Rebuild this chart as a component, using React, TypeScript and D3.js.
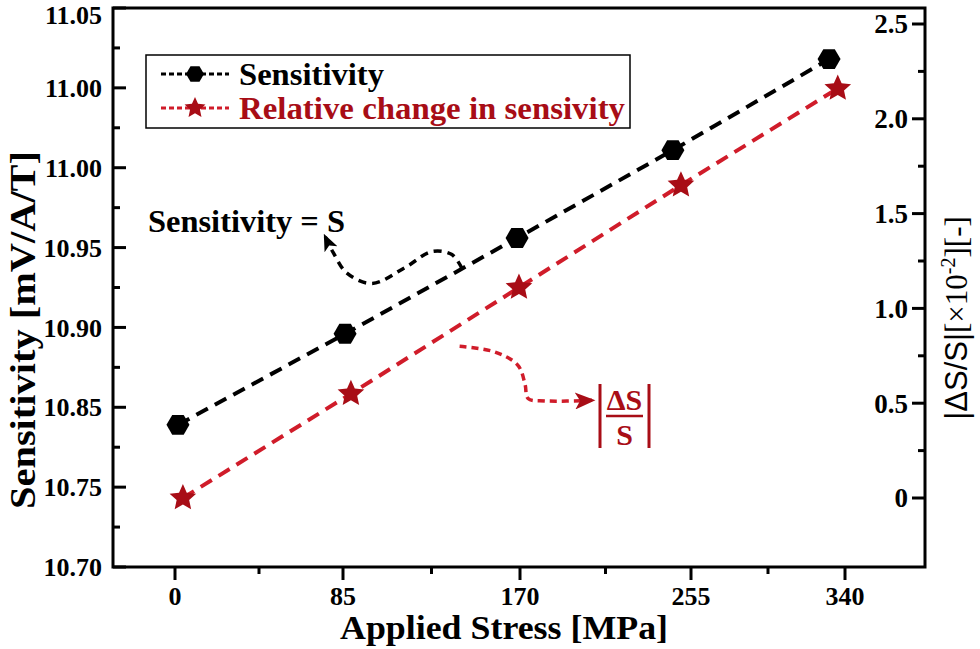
import * as d3 from 'd3';

// applied stress ticks [MPa]
const stressTicks = [0, 85, 170, 255, 340];
const stressMinor = [42.5, 127.5, 212.5, 297.5];

// sensitivity series (black hexagons)
const sensStress = [1.5, 86, 168.6, 246, 331.2];
const sensitivity = [10.789, 10.846, 10.906, 10.961, 11.018];

// relative change series (red stars)
const relStress = [4, 88.8, 169.5, 250, 336];
const relChange = [0, 0.55, 1.11, 1.65, 2.16];

// left axis (tick labels as printed in the figure)
const leftTicks = [10.7, 10.75, 10.8, 10.85, 10.9, 10.95, 11.0, 11.05];
const leftTickLabels = ['10.70', '10.75', '10.85', '10.90', '10.95', '11.00', '11.00', '11.05'];
const leftMinor = [10.725, 10.775, 10.825, 10.875, 10.925, 10.975, 11.025];

// right axis
const rightTicks = [0, 0.5, 1.0, 1.5, 2.0, 2.5];
const rightTickLabels = ['0', '0.5', '1.0', '1.5', '2.0', '2.5'];
const rightMinor = [0.25, 0.75, 1.25, 1.75, 2.25];

// annotation curves, in data units
const sensArrow: [number, number][] = [
  [142.1, 10.887], [137.3, 10.8956], [127.7, 10.8975], [114.8, 10.8875],
  [98.9, 10.8775], [86.9, 10.884], [80, 10.897], [75.9, 10.907],
];
const relArrow: [number, number][] = [
  [141, 0.8], [158, 0.77], [169, 0.7], [172.5, 0.6],
  [174, 0.525], [182.4, 0.512], [205.8, 0.515],
];

const W = 980;
const H = 649;
const frame = { left: 113, top: 8, right: 925, bottom: 567 };
const xTickPx = [175, 343, 520, 691, 845];

const BLACK = '#000';
const RED_LINE = '#d01c2a';
const RED = '#a80d16';
const serif = '"Liberation Serif", "Times New Roman", serif';
const sans = '"Liberation Sans", Arial, sans-serif';

function hexagon(r: number) {
  const pts = d3.range(6).map((i) => {
    const a = (Math.PI / 3) * i;
    return [r * Math.cos(a), r * Math.sin(a)] as [number, number];
  });
  return d3.line().curve(d3.curveLinearClosed)(pts) as string;
}

function star(r: number, inner: number) {
  const pts = d3.range(10).map((i) => {
    const a = (Math.PI / 5) * i - Math.PI / 2;
    const rr = i % 2 === 0 ? r : r * inner;
    return [rr * Math.cos(a), rr * Math.sin(a)] as [number, number];
  });
  return d3.line().curve(d3.curveLinearClosed)(pts) as string;
}

export default function App() {
  const x = d3.scaleLinear().domain(stressTicks).range(xTickPx);
  const yL = d3.scaleLinear().domain([10.7, 11.05]).range([frame.bottom, frame.top]);
  const yR = d3.scaleLinear().domain([0, 2.5]).range([498, 24]);

  const sensPts = sensStress.map((s, i) => [x(s), yL(sensitivity[i])] as [number, number]);
  const relPts = relStress.map((s, i) => [x(s), yR(relChange[i])] as [number, number]);
  const line = d3.line();
  const curve = d3.line().curve(d3.curveCatmullRom.alpha(0.5));

  const starBig = star(14, 0.47);
  const starSmall = star(11, 0.47);
  const hex = hexagon(11.5);
  const hexSmall = hexagon(9);

  return (
    <div style={{ position: 'absolute', left: 0, top: 0 }}>
      <svg width={W} height={H} style={{ display: 'block', background: '#fff' }}>
        <defs>
          <marker id="arrBlack" viewBox="0 0 12 10" refX="10" refY="5" markerWidth="17" markerHeight="15"
            markerUnits="userSpaceOnUse" orient="auto">
            <path d="M0,0 L12,5 L0,10 L3,5 Z" fill={BLACK} />
          </marker>
          <marker id="arrRed" viewBox="0 0 12 10" refX="10" refY="5" markerWidth="22" markerHeight="17"
            markerUnits="userSpaceOnUse" orient="auto">
            <path d="M0,0 L12,5 L0,10 L3,5 Z" fill={RED} />
          </marker>
        </defs>

        {/* data lines */}
        <path d={line(sensPts) as string} fill="none" stroke={BLACK} strokeWidth={4} strokeDasharray="13 8" />
        <path d={line(relPts) as string} fill="none" stroke={RED_LINE} strokeWidth={4} strokeDasharray="13 8" />

        {/* annotation arrows */}
        <path d={curve(sensArrow.map(([s, v]) => [x(s), yL(v)] as [number, number])) as string}
          fill="none" stroke={BLACK} strokeWidth={3.5} strokeDasharray="8 6" markerEnd="url(#arrBlack)" />
        <path d={curve(relArrow.map(([s, v]) => [x(s), yR(v)] as [number, number])) as string}
          fill="none" stroke={RED_LINE} strokeWidth={3.5} strokeDasharray="7 5" markerEnd="url(#arrRed)" />

        {/* markers */}
        {sensPts.map(([px, py], i) => (
          <path key={'h' + i} d={hex} transform={`translate(${px},${py})`} fill={BLACK} />
        ))}
        {relPts.map(([px, py], i) => (
          <path key={'s' + i} d={starBig} transform={`translate(${px},${py})`} fill={RED} />
        ))}

        {/* frame */}
        <rect x={frame.left} y={frame.top} width={frame.right - frame.left} height={frame.bottom - frame.top}
          fill="none" stroke={BLACK} strokeWidth={3} />

        {/* bottom axis */}
        {stressTicks.map((t, i) => (
          <g key={'xt' + i}>
            <line x1={x(t)} x2={x(t)} y1={frame.bottom} y2={frame.bottom + 13} stroke={BLACK} strokeWidth={3} />
            <text x={x(t)} y={605} textAnchor="middle" fontFamily={serif} fontWeight="bold" fontSize={26}>{t}</text>
          </g>
        ))}
        {stressMinor.map((t, i) => (
          <line key={'xm' + i} x1={x(t)} x2={x(t)} y1={frame.bottom} y2={frame.bottom + 7} stroke={BLACK} strokeWidth={3} />
        ))}
        <text x={504} y={639} textAnchor="middle" fontFamily={serif} fontWeight="bold" fontSize={34}
          textLength={328} lengthAdjust="spacingAndGlyphs">Applied Stress [MPa]</text>

        {/* left axis */}
        {leftTicks.map((t, i) => (
          <g key={'yl' + i}>
            <line x1={frame.left} x2={frame.left + 13} y1={yL(t)} y2={yL(t)} stroke={BLACK} strokeWidth={3} />
            <text x={frame.left - 11} y={Math.max(yL(t), 15)} dy="0.35em" textAnchor="end" fontFamily={serif}
              fontWeight="bold" fontSize={26}>{leftTickLabels[i]}</text>
          </g>
        ))}
        {leftMinor.map((t, i) => (
          <line key={'ylm' + i} x1={frame.left} x2={frame.left + 7} y1={yL(t)} y2={yL(t)} stroke={BLACK} strokeWidth={3} />
        ))}
        <text transform="translate(35,330) rotate(-90)" textAnchor="middle" fontFamily={serif} fontWeight="bold"
          fontSize={36} textLength={358} lengthAdjust="spacingAndGlyphs">Sensitivity [mV/A/T]</text>

        {/* right axis */}
        {rightTicks.map((t, i) => (
          <g key={'yr' + i}>
            <line x1={frame.right - 13} x2={frame.right} y1={yR(t)} y2={yR(t)} stroke={BLACK} strokeWidth={3} />
            <text x={frame.right - 17} y={yR(t)} dy="0.35em" textAnchor="end" fontFamily={serif} fontWeight="bold"
              fontSize={27}>{rightTickLabels[i]}</text>
          </g>
        ))}
        {rightMinor.map((t, i) => (
          <line key={'yrm' + i} x1={frame.right - 7} x2={frame.right} y1={yR(t)} y2={yR(t)} stroke={BLACK} strokeWidth={3} />
        ))}
        <text transform="translate(967,318) rotate(-90)" textAnchor="middle" fontSize={31} fill={BLACK}>
          <tspan fontFamily={sans}>|ΔS/S|</tspan>
          <tspan fontFamily={serif}>[×10</tspan>
          <tspan fontFamily={serif} fontSize={20} dy={-12}>-2</tspan>
          <tspan fontFamily={serif} dy={12}>][-]</tspan>
        </text>

        {/* legend */}
        <rect x={146} y={55} width={484} height={73} fill="#fff" stroke={BLACK} strokeWidth={1.5} />
        <line x1={161} x2={229} y1={74} y2={74} stroke={BLACK} strokeWidth={3} strokeDasharray="5 3" />
        <path d={hexSmall} transform="translate(195,74)" fill={BLACK} />
        <text x={239} y={85} fontFamily={serif} fontWeight="bold" fontSize={32} fill={BLACK}
          textLength={145} lengthAdjust="spacingAndGlyphs">Sensitivity</text>
        <line x1={161} x2={229} y1={108} y2={108} stroke={RED_LINE} strokeWidth={3} strokeDasharray="5 3" />
        <path d={starSmall} transform="translate(195,108)" fill={RED} />
        <text x={239} y={119} fontFamily={serif} fontWeight="bold" fontSize={32} fill={RED}
          textLength={386} lengthAdjust="spacingAndGlyphs">Relative change in sensivity</text>

        {/* annotations */}
        <text x={148} y={232} fontFamily={serif} fontWeight="bold" fontSize={31} fill={BLACK}
          textLength={197} lengthAdjust="spacingAndGlyphs">Sensitivity = S</text>
        <g fill={RED} fontFamily={serif} fontWeight="bold" fontSize={30}>
          <line x1={600} x2={600} y1={384} y2={448} stroke={RED} strokeWidth={3} />
          <line x1={649} x2={649} y1={384} y2={448} stroke={RED} strokeWidth={3} />
          <text x={624.5} y={410} textAnchor="middle">ΔS</text>
          <line x1={606} x2={643} y1={416} y2={416} stroke={RED} strokeWidth={2.5} />
          <text x={624.5} y={445} textAnchor="middle">S</text>
        </g>
      </svg>
    </div>
  );
}
